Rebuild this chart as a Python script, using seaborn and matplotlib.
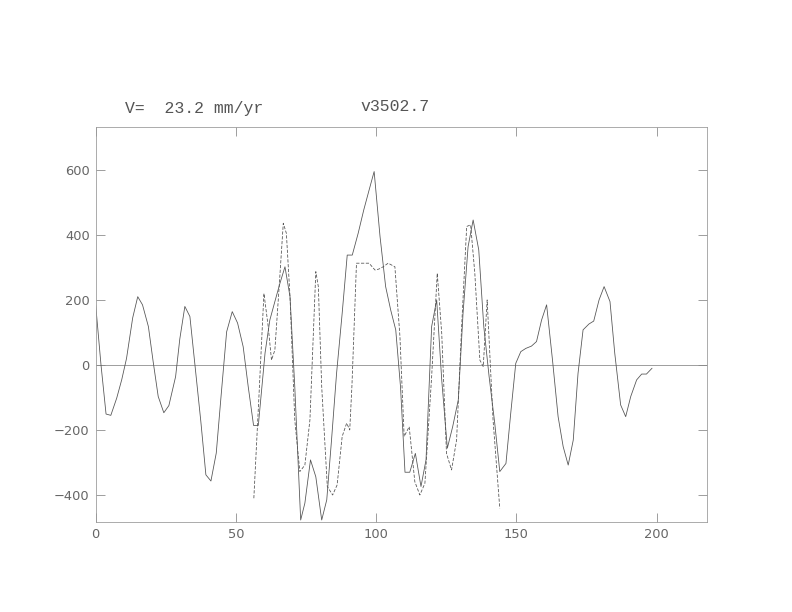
import matplotlib
matplotlib.use('Agg')
import matplotlib.pyplot as plt
import seaborn as sns

# Dados
x_solido = [0, 1.9, 3.7, 5.4, 7.5, 9.3, 11, 13.2, 15, 16.7,
            18.8, 20.5, 22.3, 24.3, 26.1, 28.5, 30.0, 31.8, 33.6, 35.4,
            37.5, 39.3, 41.1, 43, 44.7, 46.7, 48.7, 50.6, 52.6, 54.4,
            56.3, 58, 60.4, 62.1, 63.9, 65.7, 67.5, 69.3, 71, 73.1,
            74.6, 76.6, 78.5, 80.6, 82.4, 84.1, 85.9, 87.9, 89.7, 91.5,
            93.6, 95.6, 97.5, 99.3, 101.4, 103.4, 105.2, 107, 108.7, 110.3,
            112, 114, 116, 117.8, 119.8, 121.6, 123.4, 125.4, 127.3, 129.3,
            131, 132.8, 134.6, 136.6, 138.4, 140.3, 142.3, 144.1, 146.3, 148,
            149.8, 151.6, 153.4, 155.4, 157.2, 159, 160.8, 162.9, 164.9, 166.7,
            168.5, 170.3, 172, 173.8, 175.9, 177.6, 179.5, 181.3, 183.4, 185.1,
            187.2, 189, 190.8, 192.9, 194.7, 196.4, 198.4]
y_solido = [185, 0, -151, -155, -102, -45, 20, 145, 210, 185,
            118, 10, -97, -147, -125, -36, 80, 180, 149, 0,
            -174, -338, -357, -271, -97, 102, 164, 129, 56, -67,
            -186, -186, 37, 138, 195, 251, 302, 210, -67, -477,
            -425, -292, -344, -477, -415, -231, -26, 159, 338, 338,
            405, 477, 538, 595, 395, 241, 169, 108, -67, -330,
            -330, -272, -374, -292, 118, 200, -46, -256, -190, -108,
            159, 364, 446, 354, 118, -36, -179, -328, -303, -149,
            5, 41, 51, 58, 72, 138, 185, 15, -159, -251,
            -308, -231, -26, 108, 126, 135, 200, 241, 195, 36,
            -123, -159, -97, -46, -28, -28, -10]

x_tracejado = [56.4, 58.2, 60, 61.5, 62.7, 63.9, 65.5, 66.9, 68, 69.3,
               71, 72.8, 74.6, 76.4, 78.5, 79.4, 80.6, 82.6, 84.5, 86.1,
               87.9, 89.5, 90.6, 91.4, 93, 95.6, 97.5, 99.6, 101, 102.5, 104.3,
               106.7, 108.5, 110, 111.8, 113.8, 115.6, 117.4, 119.8, 121.8, 123.4,
               125.1, 126.9, 128.7, 130.5, 132.3, 133.7, 135.2, 137, 138.2, 139.6,
               141.7, 144.1]
y_tracejado = [-410, -100, 220, 120, 15, 46, 250, 436, 405, 210,
               -169, -328, -308, -169, 287, 241, -67, -374, -400, -369,
               -220, -179, -200, -60, 313, 313, 313, 292, 295, 302, 313,
               302, 87, -220, -190, -359, -400, -364, -36, 282, 97,
               -272, -323, -231, 118, 426, 431, 282, 15, -5, 200,
               -169, -441]

ticks_x = [0, 50, 100, 150, 200]
ticks_y = [-400, -200, 0, 200, 400, 600]
texto_v = 'V=  23.2 mm/yr'
texto_estacao = 'v3502.7'

sns.set_theme(style='white')
plt.rcParams['font.family'] = ['DejaVu Sans']

fig = plt.figure(figsize=(11, 8.5), dpi=72)
ax = fig.add_axes([0.1208, 0.1471, 0.7719, 0.6454])

cinza = '#555555'
ax.axhline(0, color='#888888', linewidth=0.8)
sns.lineplot(x=x_solido, y=y_solido, ax=ax, color=cinza, linewidth=0.8, sort=False)
sns.lineplot(x=x_tracejado, y=y_tracejado, ax=ax, color=cinza, linewidth=0.8,
             linestyle=(0, (4, 2)), sort=False)

ax.set_xlim(0, 218)
ax.set_ylim(-483, 732)
ax.set_xticks(ticks_x)
ax.set_yticks(ticks_y)
ax.set_yticklabels([str(v).replace('-', '\u2212') for v in ticks_y])
ax.tick_params(direction='in', length=9, width=0.8, color='#888888',
               labelcolor='#666666', labelsize=13, top=True, right=True,
               left=True, bottom=True, pad=6)
for s in ax.spines.values():
    s.set_color('#999999')
    s.set_linewidth(0.8)

ax.text(0.048, 1.035, texto_v, transform=ax.transAxes, fontsize=16.5,
        color='#555555', family='Liberation Mono')
ax.text(0.433, 1.04, texto_estacao, transform=ax.transAxes, fontsize=16.5,
        color='#555555', family='Liberation Mono')

plt.savefig('out.png', dpi=72)
